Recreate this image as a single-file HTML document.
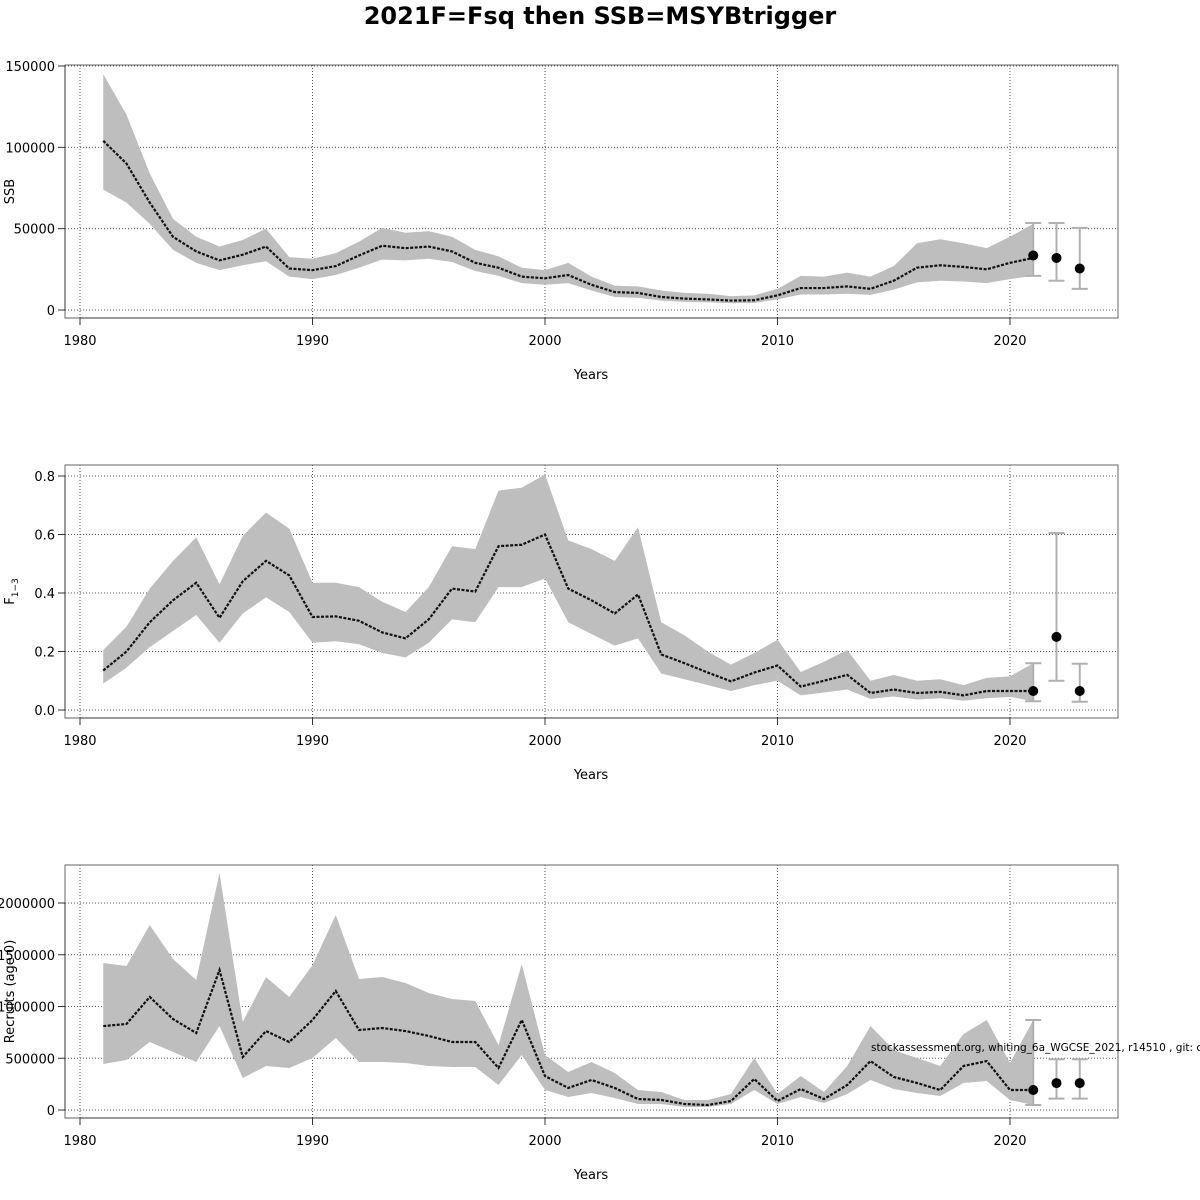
<!DOCTYPE html>
<html><head><meta charset="utf-8"><style>
body{margin:0;background:#fff}
svg{display:block;font-family:"DejaVu Sans","Liberation Sans",sans-serif}
</style></head><body>
<svg id="chart" width="1200" height="1200" viewBox="0 0 1200 1200" xmlns="http://www.w3.org/2000/svg">
<text x="600" y="24" text-anchor="middle" font-size="24" font-weight="bold">2021F=Fsq then SSB=MSYBtrigger</text>
</svg>
<script>
const years = [];
for (let y = 1981; y <= 2021; y++) years.push(y);
const xTicks = [1980, 1990, 2000, 2010, 2020];
const forecastYears = [2021, 2022, 2023];

const ssbEst = [104000,90000,66000,45000,36000,30500,34000,39000,25500,24500,27000,33500,39500,38000,39000,36000,29000,26000,20500,19500,21500,15500,11000,10500,8000,7000,6500,5800,6000,9000,13500,13500,14500,13000,18000,26000,27500,26500,25000,29000,32000];
const ssbHigh = [145000,120000,84000,56000,45000,39000,43000,50000,32500,31500,35000,42000,50500,47500,48500,45000,37000,33000,26000,24500,29000,20500,15000,14500,12000,10500,10000,8500,9000,13000,21000,20500,23000,20500,27000,41000,43500,41000,38000,45000,53000];
const ssbLow = [74000,66000,53000,37000,29000,24500,27500,30000,20500,19000,21500,26000,31000,30500,31500,29500,24000,21000,16500,15500,16500,12000,8000,7500,5800,5000,4700,4200,4300,6500,9500,9500,10000,9300,12500,17000,18000,17500,16500,19000,21000];
const ssbFc = [33500,32000,25500];
const ssbFcHigh = [53500,53500,50500];
const ssbFcLow = [21000,18000,13000];
const ssbTicks = [0,50000,100000,150000];

const fEst = [0.135,0.2,0.3,0.375,0.435,0.315,0.44,0.51,0.46,0.318,0.32,0.305,0.265,0.245,0.31,0.415,0.405,0.56,0.565,0.6,0.415,0.375,0.33,0.395,0.19,0.16,0.128,0.098,0.128,0.152,0.08,0.1,0.12,0.058,0.07,0.058,0.062,0.05,0.065,0.065,0.065];
const fHigh = [0.205,0.285,0.415,0.51,0.59,0.43,0.595,0.675,0.62,0.435,0.435,0.42,0.37,0.335,0.42,0.56,0.55,0.75,0.76,0.805,0.58,0.55,0.51,0.625,0.3,0.255,0.2,0.155,0.195,0.24,0.13,0.165,0.205,0.1,0.12,0.1,0.105,0.085,0.11,0.115,0.16];
const fLow = [0.09,0.145,0.215,0.27,0.325,0.23,0.33,0.385,0.335,0.23,0.235,0.225,0.195,0.18,0.23,0.31,0.3,0.42,0.42,0.45,0.3,0.26,0.22,0.245,0.125,0.105,0.085,0.065,0.085,0.1,0.05,0.06,0.07,0.038,0.046,0.036,0.04,0.032,0.04,0.045,0.03];
const fFc = [0.065,0.25,0.065];
const fFcHigh = [0.16,0.605,0.158];
const fFcLow = [0.03,0.1,0.028];
const fTicks = [0,0.2,0.4,0.6,0.8];
const fTickLabels = ["0.0","0.2","0.4","0.6","0.8"];

const recEst = [811000,831000,1092000,879000,744000,1353000,512000,763000,657000,870000,1150000,773000,792000,763000,715000,657000,657000,406000,870000,328000,213000,290000,213000,106000,97000,58000,48000,87000,300000,87000,203000,106000,242000,473000,319000,261000,193000,425000,473000,193000,193000];
const recHigh = [1420000,1391000,1787000,1459000,1256000,2290000,850000,1285000,1092000,1400000,1884000,1266000,1285000,1227000,1130000,1072000,1053000,628000,1410000,531000,367000,464000,357000,193000,174000,97000,97000,155000,502000,155000,328000,174000,425000,811000,580000,502000,425000,734000,870000,454000,870000];
const recLow = [444000,483000,657000,560000,464000,811000,309000,425000,406000,502000,696000,464000,464000,454000,425000,415000,415000,242000,531000,193000,126000,164000,116000,58000,58000,29000,29000,58000,193000,58000,126000,68000,155000,290000,203000,164000,135000,261000,280000,97000,48000];
const recFc = [193000,260000,260000];
const recFcHigh = [870000,490000,490000];
const recFcLow = [48000,110000,110000];
const recTicks = [0,500000,1000000,1500000,2000000];

const NS = "http://www.w3.org/2000/svg";
const svg = document.getElementById('chart');
function el(tag, attrs, parent) {
  const e = document.createElementNS(NS, tag);
  for (const k in attrs) e.setAttribute(k, attrs[k]);
  (parent || svg).appendChild(e);
  return e;
}
function xs(yr) { return 80 + (yr - 1980) * 23.25; }

function panel(cfg) {
  const g = el('g', {});
  
  
  const ys = v => cfg.y0 - (v - cfg.vmin) * cfg.scale;
  xTicks.forEach(t => {
    const l = el('line', {x1: xs(t), x2: xs(t), y1: cfg.top, y2: cfg.bottom, stroke: '#555', 'stroke-width': 1, 'stroke-dasharray': '1,2'}, g);
    
    
  });
  cfg.ticks.forEach(t => {
    const l = el('line', {x1: 65, x2: 1118, y1: ys(t), y2: ys(t), stroke: '#555', 'stroke-width': 1, 'stroke-dasharray': '1,2'}, g);
    
    
  });
  let pts = years.map((y, i) => xs(y) + ',' + ys(cfg.high[i]));
  pts = pts.concat(years.map((y, i) => xs(y) + ',' + ys(cfg.low[i])).reverse());
  const band = el('polygon', {points: pts.join(' '), fill: '#bebebe', stroke: 'none'}, g);
  
  
  const line = el('polyline', {points: years.map((y, i) => xs(y) + ',' + ys(cfg.est[i])).join(' '), fill: 'none', stroke: '#111', 'stroke-width': 2.2, 'stroke-dasharray': '3,1.5'}, g);
  
  
  forecastYears.forEach((y, i) => {
    const x = xs(y);
    const a = {stroke: '#b0b0b0', 'stroke-width': 2};
    const v = el('line', Object.assign({x1: x, x2: x, y1: ys(cfg.fcHigh[i]), y2: ys(cfg.fcLow[i])}, a), g);
    
    
    const c1 = el('line', Object.assign({x1: x - 8, x2: x + 8, y1: ys(cfg.fcHigh[i]), y2: ys(cfg.fcHigh[i])}, a), g);
    
    
    const c2 = el('line', Object.assign({x1: x - 8, x2: x + 8, y1: ys(cfg.fcLow[i]), y2: ys(cfg.fcLow[i])}, a), g);
    
    
    const p = el('circle', {cx: x, cy: ys(cfg.fc[i]), r: 5, fill: '#000'}, g);
    
    
  });
  const fr = el('rect', {x: 65, y: cfg.top, width: 1053, height: cfg.bottom - cfg.top, fill: 'none', stroke: '#666', 'stroke-width': 1}, g);
  
  
  const yl = el('line', {x1: 65, x2: 65, y1: ys(cfg.ticks[0]), y2: ys(cfg.ticks[cfg.ticks.length - 1]), stroke: '#333', 'stroke-width': 1}, g);
  
  
  cfg.ticks.forEach((t, i) => {
    el('line', {x1: 58, x2: 65, y1: ys(t), y2: ys(t), stroke: '#333'}, g);
    const tx = el('text', {x: 55, y: ys(t) + 5, 'text-anchor': 'end', 'font-size': 13}, g);
    tx.textContent = cfg.labels[i];
    
    
  });
  const xl = el('line', {x1: xs(1980), x2: xs(2020), y1: cfg.bottom, y2: cfg.bottom, stroke: '#333'}, g);
  
  
  xTicks.forEach(t => {
    el('line', {x1: xs(t), x2: xs(t), y1: cfg.bottom, y2: cfg.bottom + 7, stroke: '#333'}, g);
    const tx = el('text', {x: xs(t), y: cfg.bottom + 27, 'text-anchor': 'middle', 'font-size': 13}, g);
    tx.textContent = t;
    
    
  });
  const xt = el('text', {x: 591, y: cfg.bottom + 61, 'text-anchor': 'middle', 'font-size': 13}, g);
  xt.textContent = 'Years';
  
  
  const cy = (cfg.top + cfg.bottom) / 2;
  const yt = el('text', {x: 0, y: 0, 'text-anchor': 'middle', 'font-size': 13, transform: 'translate(14,' + cy + ') rotate(-90)'}, g);
  
  
  if (cfg.titleSub) {
    yt.textContent = cfg.title;
    const ts = el('tspan', {'font-size': 9, dy: 4}, yt);
    ts.textContent = cfg.titleSub;
  } else yt.textContent = cfg.title;
  return g;
}

panel({name: 'ssb', top: 65, bottom: 318, y0: 310, vmin: 0, scale: 244 / 150000, ticks: ssbTicks, labels: ssbTicks.map(String), est: ssbEst, high: ssbHigh, low: ssbLow, fc: ssbFc, fcHigh: ssbFcHigh, fcLow: ssbFcLow, title: 'SSB'});
panel({name: 'f', top: 465, bottom: 718, y0: 710, vmin: 0, scale: 292.5, ticks: fTicks, labels: fTickLabels, est: fEst, high: fHigh, low: fLow, fc: fFc, fcHigh: fFcHigh, fcLow: fFcLow, title: 'F', titleSub: '1\u22123'});
panel({name: 'recruits', top: 865, bottom: 1118, y0: 1110, vmin: 0, scale: 207 / 2000000, ticks: recTicks, labels: recTicks.map(String), est: recEst, high: recHigh, low: recLow, fc: recFc, fcHigh: recFcHigh, fcLow: recFcLow, title: 'Recruits (age 0)'});

const note = el('text', {x: 871, y: 1051, 'font-size': 10.5, fill: '#000'});
note.textContent = 'stockassessment.org, whiting_6a_WGCSE_2021, r14510 , git: c28bcd';


</script>
</body></html>
